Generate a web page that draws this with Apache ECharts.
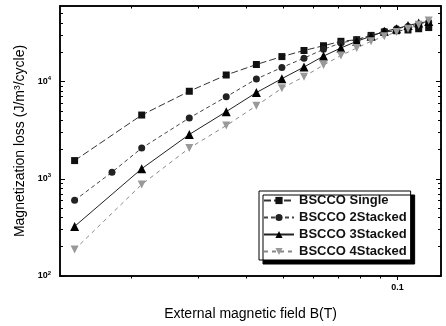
<!DOCTYPE html>
<html>
<head>
<meta charset="utf-8">
<script src="https://cdn.jsdelivr.net/npm/echarts@6/dist/echarts.min.js"></script>
<style>
html, body { margin: 0; padding: 0; background: #fff; }
#main { width: 446px; height: 326px; }
</style>
</head>
<body>
<div id="main"></div>
<script>
// external field B (T) for each measured point
var fieldB = [0.0142, 0.0213, 0.0284, 0.0355, 0.0426, 0.0497, 0.0568, 0.0639,
              0.0710, 0.0781, 0.0852, 0.0923, 0.0994, 0.1065, 0.1136, 0.1207];
// the 2Stacked curve has one extra point
var field2 = [0.0142, 0.0178, 0.0213, 0.0284, 0.0355, 0.0426, 0.0497, 0.0568, 0.0639,
              0.0710, 0.0781, 0.0852, 0.0923, 0.0994, 0.1065, 0.1136, 0.1207];

// magnetization loss (J/m3/cycle)
var single   = [1540, 4530, 7960, 11700, 15000, 18100, 20900, 23400,
                26000, 27000, 29900, 32400, 33400, 34000, 35000, 36000];
var stacked2 = [600, 1170, 2070, 4230, 6980, 10650, 13990, 17450, 21500,
                25000, 27000, 29900, 32900, 35000, 37000, 39000, 41000];
var stacked3 = [324, 1270, 2860, 4910, 7720, 10730, 14130, 18300,
                22200, 26000, 29300, 32900, 35000, 37900, 40000, 41600];
var stacked4 = [187, 875, 2070, 3530, 5650, 8550, 11250, 14800,
                18550, 22200, 26000, 29300, 32400, 35000, 38400, 42500];

var seriesNames = ['BSCCO Single', 'BSCCO 2Stacked', 'BSCCO 3Stacked', 'BSCCO 4Stacked'];

// tick positions
var majorX = [0.1];
var minorX = [0.02, 0.03, 0.04, 0.05, 0.06, 0.07, 0.08, 0.09];
var majorY = [100, 1000, 10000];
var minorY = [200, 300, 400, 500, 600, 700, 800, 900,
              2000, 3000, 4000, 5000, 6000, 7000, 8000, 9000,
              20000, 30000, 40000, 50000];

var font = "'Liberation Sans', Arial, sans-serif";

function pairs(xs, ys) {
	return xs.map(function (x, i) { return [x, ys[i]]; });
}

function logAxis(dir, pos, ticks, len, inside, label) {
	var ax = {
		type: 'log',
		logBase: 10,
		position: pos,
		min: dir == 'x' ? 0.013 : 100,
		max: dir == 'x' ? 0.13 : 60000,
		axisLine: { show: true, lineStyle: { color: '#000', width: 1.5 } },
		axisTick: { show: true, inside: inside, length: len, customValues: ticks,
			lineStyle: { color: '#000', width: 1 } },
		axisLabel: { show: false },
		splitLine: { show: false },
		minorTick: { show: false }
	};
	if (label) ax.axisLabel = label;
	return ax;
}

var chart = echarts.init(document.getElementById('main'));

var xMain = logAxis('x', 'bottom', majorX, 4, false, {
	show: true, customValues: majorX, margin: 7,
	fontFamily: font, fontSize: 9, fontWeight: 'bold', color: '#000',
	formatter: function (v) { return '0.1'; }
});
xMain.name = 'External magnetic field B(T)';
xMain.nameLocation = 'middle';
xMain.nameGap = 31;
xMain.nameTextStyle = { fontFamily: font, fontSize: 14, color: '#000' };

var yMain = logAxis('y', 'left', majorY, 5, true, {
	show: true, customValues: majorY, margin: 9,
	color: '#000',
	formatter: function (v) {
		return '{b|10}{s|' + Math.round(Math.log10(v)) + '}';
	},
	rich: {
		b: { fontFamily: font, fontSize: 9, fontWeight: 'bold', color: '#000' },
		s: { fontFamily: font, fontSize: 6, fontWeight: 'bold', color: '#000', padding: [0, 0, 6, 0] }
	}
});
yMain.name = 'Magnetization loss (J/m\u00b3/cycle)';
yMain.nameLocation = 'middle';
yMain.nameGap = 26;
yMain.nameTextStyle = { fontFamily: font, fontSize: 14, color: '#000' };

var option = {
	animation: false,
	backgroundColor: '#fff',
	grid: { left: 60, right: 5, top: 6, bottom: 46 },
	xAxis: [
		xMain,
		logAxis('x', 'bottom', minorX, 2.5, false),
		logAxis('x', 'top', majorX, 4, true),
		logAxis('x', 'top', minorX, 2.5, true)
	],
	yAxis: [
		yMain,
		logAxis('y', 'left', minorY, 3, true),
		logAxis('y', 'right', majorY, 5, true),
		logAxis('y', 'right', minorY, 3, true)
	],
	legend: {
		orient: 'vertical',
		left: 259,
		top: 191,
		padding: [3, 4, 2, 4],
		itemGap: 4,
		itemWidth: 30,
		itemHeight: 9,
		backgroundColor: '#fff',
		borderColor: '#000',
		borderWidth: 1,
		shadowColor: '#000',
		shadowBlur: 0,
		shadowOffsetX: 4,
		shadowOffsetY: 4,
		textStyle: { fontFamily: font, fontSize: 13, fontWeight: 'bold', color: '#111' },
		data: seriesNames
	},
	series: [
		{
			name: seriesNames[0], type: 'line', data: pairs(fieldB, single),
			symbol: 'rect', symbolSize: 7,
			itemStyle: { color: '#111' },
			lineStyle: { color: '#333', width: 1, type: [7, 3] }
		},
		{
			name: seriesNames[1], type: 'line', data: pairs(field2, stacked2),
			symbol: 'circle', symbolSize: 7,
			itemStyle: { color: '#222' },
			lineStyle: { color: '#444', width: 1, type: [4, 3] }
		},
		{
			name: seriesNames[2], type: 'line', data: pairs(fieldB, stacked3),
			symbol: 'triangle', symbolSize: 9,
			itemStyle: { color: '#000' },
			lineStyle: { color: '#222', width: 1, type: 'solid' }
		},
		{
			name: seriesNames[3], type: 'line', data: pairs(fieldB, stacked4),
			symbol: 'triangle', symbolRotate: 180, symbolSize: 8,
			itemStyle: { color: '#999' },
			lineStyle: { color: '#888', width: 1, type: [4, 4] }
		}
	]
};
chart.setOption(option);
</script>
</body>
</html>
